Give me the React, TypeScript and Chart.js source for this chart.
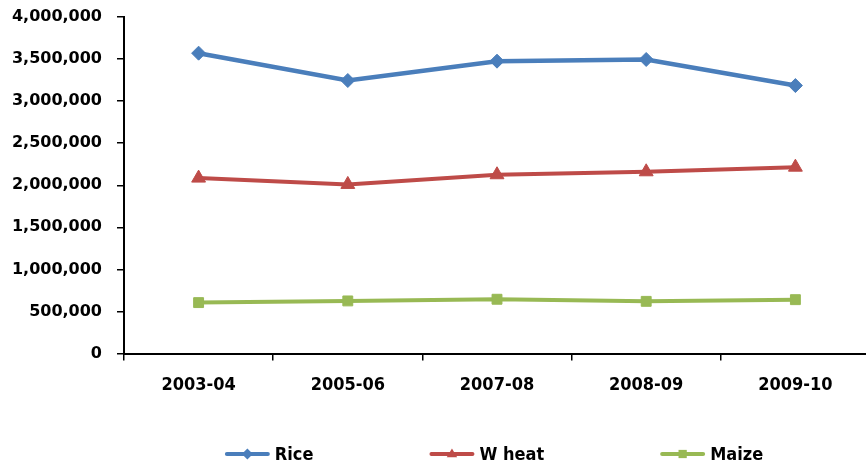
import React, { useEffect, useRef } from 'react';
import { Chart, registerables } from 'chart.js';

Chart.register(...registerables);

const categories = ['2003-04', '2005-06', '2007-08', '2008-09', '2009-10'];
const rice = [3570000, 3245000, 3475000, 3495000, 3185000];
const wheat = [2085000, 2010000, 2125000, 2160000, 2215000];
const maize = [605000, 625000, 645000, 620000, 640000];
const seriesNames = ['Rice', 'W heat', 'Maize'];
const seriesColors = ['#4A7EBB', '#BE4B48', '#98B954'];
const seriesMarkers = ['rectRot', 'triangle', 'rect'];
const yMin = 0;
const yMax = 4000000;
const yStep = 500000;

const FONT_Y = '"DejaVu Sans", sans-serif';
const FONT_X = '"DejaVu Sans Condensed", Lato, "DejaVu Sans", sans-serif';

function drawMarker(ctx: CanvasRenderingContext2D, style: string, x: number, y: number, r: number) {
  ctx.beginPath();
  if (style === 'rectRot') {
    ctx.moveTo(x, y - r);
    ctx.lineTo(x + r, y);
    ctx.lineTo(x, y + r);
    ctx.lineTo(x - r, y);
  } else if (style === 'triangle') {
    ctx.moveTo(x, y - r);
    ctx.lineTo(x + r * 0.95, y + r * 0.6);
    ctx.lineTo(x - r * 0.95, y + r * 0.6);
  } else {
    ctx.rect(x - r * 0.75, y - r * 0.75, r * 1.5, r * 1.5);
  }
  ctx.closePath();
  ctx.fill();
}

const legendPlugin = {
  id: 'excelLegend',
  afterDraw(chart: any) {
    const ctx: CanvasRenderingContext2D = chart.ctx;
    const area = chart.chartArea;
    const ds = chart.data.datasets;
    ctx.save();
    ctx.font = `bold 18px ${FONT_X}`;
    ctx.textBaseline = 'middle';
    ctx.textAlign = 'left';
    const symW = 45;
    const symGap = 5;
    const itemGap = 116;
    const widths = ds.map((d: any) => symW + symGap + ctx.measureText(d.label).width);
    const total = widths.reduce((a: number, b: number) => a + b, 0) + itemGap * (ds.length - 1);
    let x = (area.left + area.right) / 2 - total / 2 - 3;
    const y = chart.height - 16;
    ds.forEach((d: any, i: number) => {
      ctx.strokeStyle = d.borderColor;
      ctx.fillStyle = d.borderColor;
      ctx.lineWidth = 4;
      ctx.lineCap = 'round';
      ctx.beginPath();
      ctx.moveTo(x + 2, y);
      ctx.lineTo(x + symW - 2, y);
      ctx.stroke();
      drawMarker(ctx, seriesMarkers[i], x + symW / 2, y, 5.5);
      ctx.fillStyle = '#000';
      ctx.fillText(d.label, x + symW + symGap, y + 1);
      x += widths[i] + itemGap;
    });
    ctx.restore();
  },
};

export default function App() {
  const ref = useRef<HTMLCanvasElement | null>(null);

  useEffect(() => {
    if (!ref.current) return;
    const series = [rice, wheat, maize];
    const chart = new Chart(ref.current, {
      type: 'line',
      data: {
        labels: categories,
        datasets: series.map((vals, i) => ({
          label: seriesNames[i],
          data: vals,
          borderColor: seriesColors[i],
          backgroundColor: seriesColors[i],
          borderWidth: i === 0 ? 4.5 : 4,
          tension: 0,
          pointStyle: seriesMarkers[i] as any,
          pointRadius: i === 1 ? 8 : 7,
          pointBorderWidth: 1,
          pointBorderColor: seriesColors[i],
          pointBackgroundColor: seriesColors[i],
          fill: false,
        })),
      },
      options: {
        responsive: false,
        animation: false,
        devicePixelRatio: 1,
        layout: { padding: { top: 17, right: 10, bottom: 0, left: 0 } },
        plugins: {
          legend: { display: false },
          tooltip: { enabled: false },
        },
        scales: {
          x: {
            offset: true,
            afterFit: (scale: any) => {
              scale.height = 470 - 353.5;
              scale.paddingTop = 0;
            },
            grid: {
              offset: true,
              drawOnChartArea: false,
              drawTicks: true,
              tickLength: 7,
              color: '#000',
              lineWidth: 1.5,
            },
            border: { display: true, color: '#000', width: 2 },
            ticks: {
              color: '#000',
              font: { family: FONT_X, size: 18, weight: 'bold' },
              padding: 14,
              maxRotation: 0,
            },
          },
          y: {
            min: yMin,
            max: yMax,
            afterFit: (scale: any) => {
              scale.width = 124;
              scale.paddingTop = 0;
              scale.paddingBottom = 0;
            },
            grid: {
              drawOnChartArea: false,
              drawTicks: true,
              tickLength: 7,
              color: '#000',
              lineWidth: 1.5,
            },
            border: { display: true, color: '#000', width: 2 },
            ticks: {
              stepSize: yStep,
              color: '#000',
              font: { family: FONT_Y, size: 16, weight: 'bold' },
              padding: 15,
              callback: (v: any) => Number(v).toLocaleString('en-US'),
            },
          },
        },
      },
      plugins: [legendPlugin],
    });
    return () => chart.destroy();
  }, []);

  return (
    <div
      style={{
        position: 'fixed',
        left: 0,
        top: 0,
        width: 866,
        height: 470,
        overflow: 'hidden',
        background: '#fff',
      }}
    >
      <canvas ref={ref} width={880} height={470} style={{ display: 'block', width: 880, height: 470 }} />
    </div>
  );
}
